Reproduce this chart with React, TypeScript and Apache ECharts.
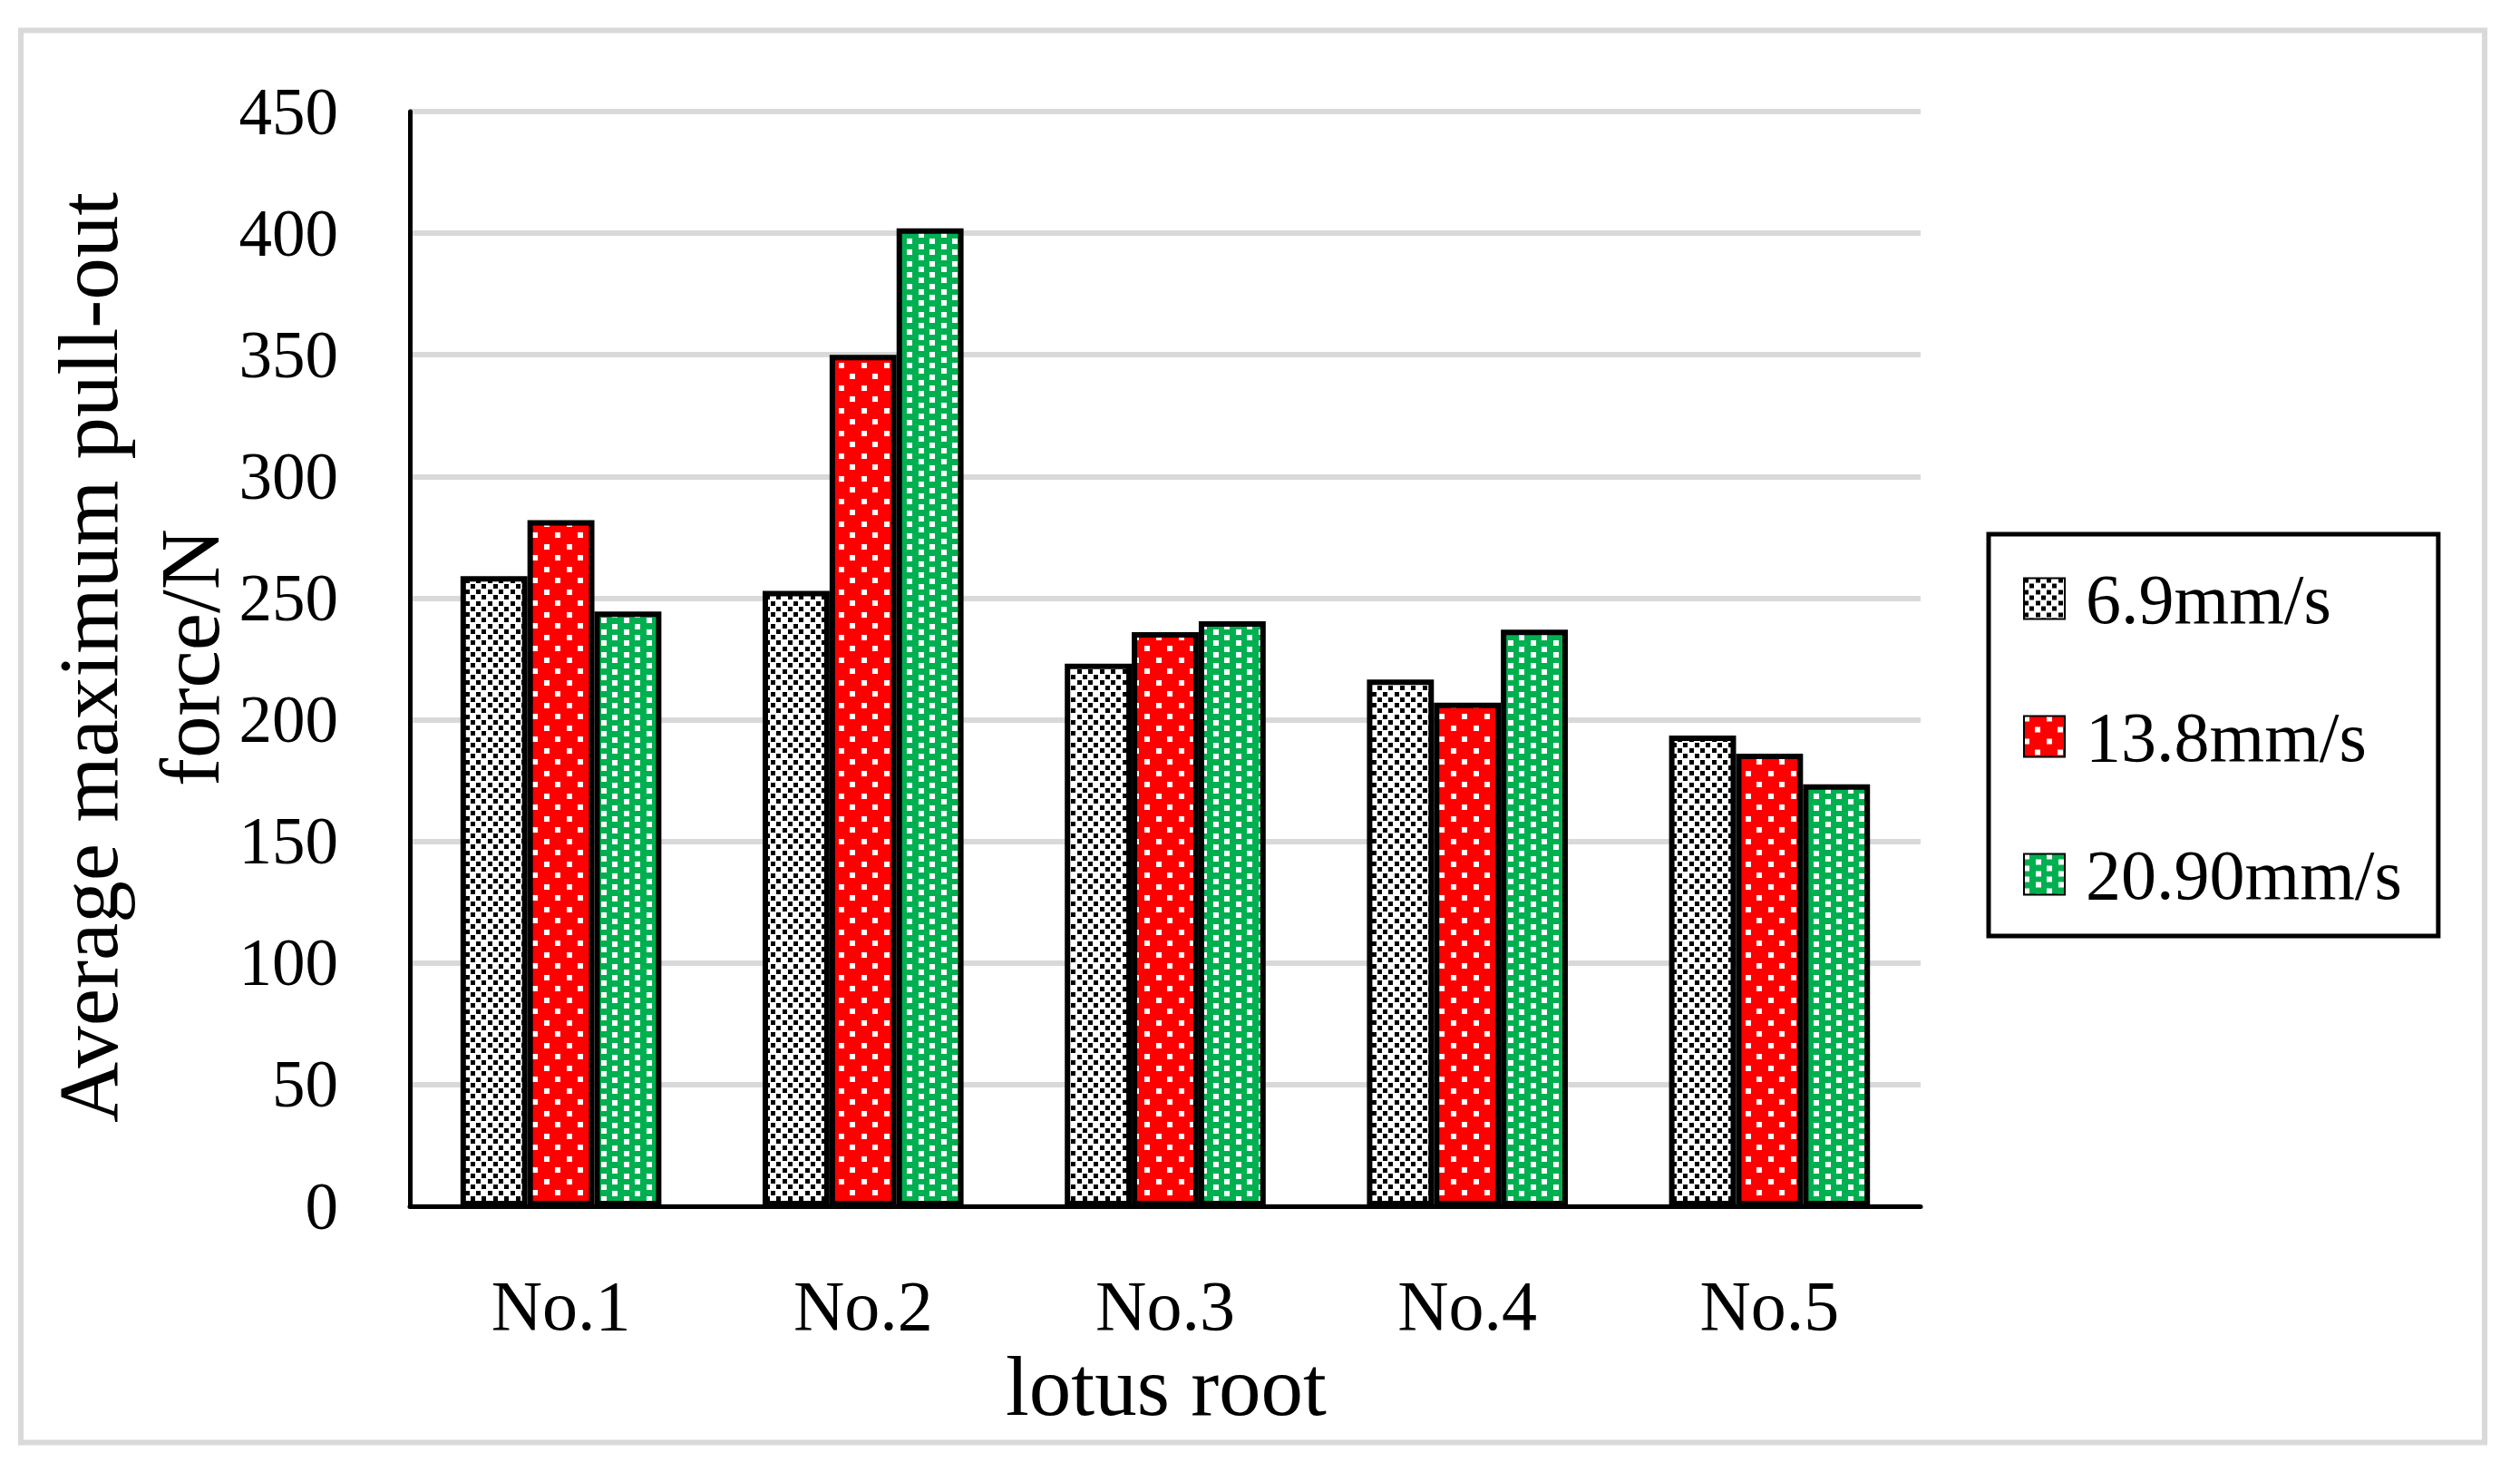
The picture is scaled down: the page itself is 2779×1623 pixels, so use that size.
import React, { useEffect, useRef } from 'react';
import * as echarts from 'echarts';

const categories = ['No.1', 'No.2', 'No.3', 'No.4', 'No.5'];
const seriesNames = ['6.9mm/s', '13.8mm/s', '20.90mm/s'];
const values69 = [259, 253, 223, 216.5, 193.5];
const values138 = [282, 350, 236, 207, 186];
const values209 = [244.5, 402, 240.5, 237, 173.5];
const yMin = 0;
const yMax = 450;
const yInterval = 50;
const yTitle = 'Average maximum pull-out\nforce/N';
const xTitle = 'lotus root';

const FONT = "'Liberation Serif', 'Times New Roman', serif";

function makePattern(bg: string, fg: string, size: number, squares: number[][]) {
  const c = document.createElement('canvas');
  c.width = 25;
  c.height = 25;
  const ctx = c.getContext('2d')!;
  ctx.fillStyle = bg;
  ctx.fillRect(0, 0, 25, 25);
  ctx.fillStyle = fg;
  squares.forEach(([x, y]) => {
    ctx.fillRect(x, y, size, size);
    if (x + size > 25) ctx.fillRect(x - 25, y, size, size);
    if (y + size > 25) ctx.fillRect(x, y - 25, size, size);
    if (x + size > 25 && y + size > 25) ctx.fillRect(x - 25, y - 25, size, size);
  });
  return { image: c, repeat: 'repeat' } as any;
}

export default function App() {
  const ref = useRef<HTMLDivElement>(null);
  useEffect(() => {
    if (!ref.current) return;
    const chart = echarts.init(ref.current, undefined, { renderer: 'svg' });

    const blackPat = makePattern('#ffffff', '#000000', 5, [
      [0, 0], [13, 0], [0, 13], [13, 13],
      [6, 6], [19, 6], [6, 19], [19, 19],
    ]);
    const redPat = makePattern('#ff0000', '#ffffff', 6, [
      [0, 0], [12, 12],
    ]);
    const greenPat = makePattern('#00b050', '#ffffff', 6, [
      [0, 0], [13, 6], [0, 13], [13, 19],
    ]);
    const pats = [blackPat, redPat, greenPat];
    const data = [values69, values138, values209];

    const option: any = {
      animation: false,
      backgroundColor: '#ffffff',
      grid: { left: 452, right: 661, top: 123, bottom: 293, containLabel: false },
      xAxis: {
        type: 'category',
        data: categories,
        axisLine: { show: true, lineStyle: { color: '#000', width: 5 } },
        axisTick: { show: false },
        axisLabel: {
          color: '#000', fontFamily: FONT, fontSize: 78, lineHeight: 78, margin: 70,
        },
        splitLine: { show: false },
      },
      yAxis: {
        type: 'value',
        min: yMin,
        max: yMax,
        interval: yInterval,
        axisLine: { show: true, lineStyle: { color: '#000', width: 5 } },
        axisTick: { show: false },
        axisLabel: { color: '#000', fontFamily: FONT, fontSize: 73, margin: 79 },
        splitLine: { show: true, lineStyle: { color: '#d9d9d9', width: 6 } },
      },
      legend: {
        orient: 'vertical',
        left: 2193,
        top: 589,
        padding: [31, 40, 28, 38],
        itemGap: 72,
        itemWidth: 45,
        itemHeight: 45,
        icon: 'rect',
        borderColor: '#000',
        borderWidth: 5,
        backgroundColor: '#fff',
        textStyle: {
          color: '#000', fontFamily: FONT, fontSize: 78, lineHeight: 80,
          padding: [0, 0, 0, 18],
        },
        data: seriesNames,
      },
      series: seriesNames.map((name, i) => ({
        name,
        type: 'bar',
        data: data[i],
        barGap: '0%',
        barCategoryGap: '33.5%',
        itemStyle: { color: pats[i], borderColor: '#000', borderWidth: 6 },
        emphasis: { disabled: true },
      })),
      graphic: [
        {
          type: 'rect',
          shape: { x: 23, y: 33.5, width: 2717, height: 1557 },
          style: { fill: 'none', stroke: '#d9d9d9', lineWidth: 6 },
          silent: true,
          z: -1,
        },
        {
          type: 'text',
          x: 153,
          y: 725,
          rotation: Math.PI / 2,
          style: {
            text: yTitle,
            fontFamily: FONT,
            fontSize: 93,
            lineHeight: 112,
            fill: '#000',
            align: 'center',
            verticalAlign: 'middle',
          },
        },
        {
          type: 'text',
          x: 1286,
          y: 1528,
          style: {
            text: xTitle,
            fontFamily: FONT,
            fontSize: 93,
            fill: '#000',
            align: 'center',
            verticalAlign: 'middle',
          },
        },
      ],
    };
    chart.setOption(option);
    return () => chart.dispose();
  }, []);
  return (
    <div
      ref={ref}
      style={{ position: 'fixed', left: 0, top: 0, width: 2779, height: 1623, background: '#fff' }}
    />
  );
}
